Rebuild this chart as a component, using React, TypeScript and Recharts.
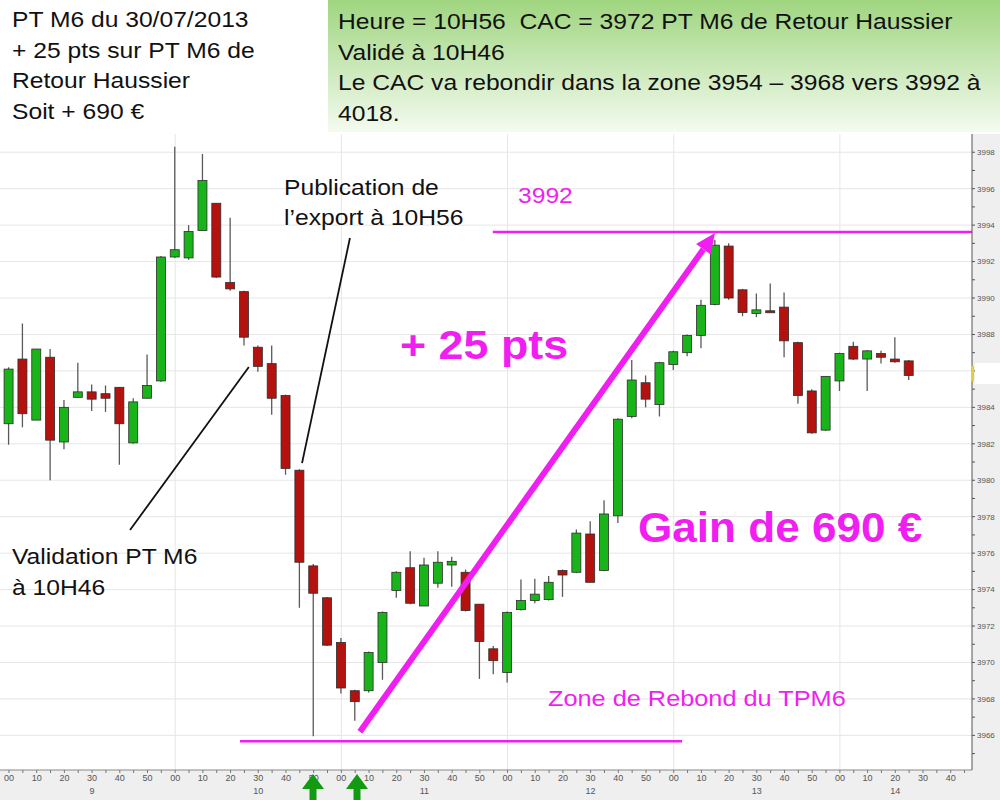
import React from 'react';
import { ComposedChart, Bar, XAxis, YAxis, CartesianGrid, ReferenceLine } from 'recharts';

// 5-minute candles of the CAC 40, 30/07/2013
const times = [
  '09:00', '09:05', '09:10', '09:15', '09:20', '09:25', '09:30', '09:35', '09:40', '09:45', '09:50', '09:55',
  '10:00', '10:05', '10:10', '10:15', '10:20', '10:25', '10:30', '10:35', '10:40', '10:45', '10:50', '10:55',
  '11:00', '11:05', '11:10', '11:15', '11:20', '11:25', '11:30', '11:35', '11:40', '11:45', '11:50', '11:55',
  '12:00', '12:05', '12:10', '12:15', '12:20', '12:25', '12:30', '12:35', '12:40', '12:45', '12:50', '12:55',
  '13:00', '13:05', '13:10', '13:15', '13:20', '13:25', '13:30', '13:35', '13:40', '13:45', '13:50', '13:55',
  '14:00', '14:05', '14:10', '14:15', '14:20', '14:25',
];
const opens = [
  3983.1, 3986.65, 3983.3, 3986.75, 3982.1, 3984.55, 3984.85, 3984.75, 3985.1, 3982.05, 3984.5, 3985.45,
  3992.25, 3992.2, 3993.7, 3995.2, 3990.85, 3990.35, 3987.3, 3986.4, 3984.65, 3980.55, 3975.3, 3973.55,
  3971.1, 3968.45, 3968.45, 3970.0, 3973.95, 3975.2, 3973.1, 3974.35, 3975.35, 3974.95, 3973.2, 3970.75,
  3969.45, 3972.9, 3973.4, 3973.45, 3975.05, 3974.95, 3977.05, 3975.05, 3978.05, 3983.5, 3985.35, 3984.15,
  3986.35, 3987.0, 3987.95, 3989.65, 3992.85, 3990.45, 3989.15, 3989.3, 3989.5, 3987.55, 3984.9, 3982.75,
  3985.45, 3987.35, 3986.65, 3986.95, 3986.65, 3986.55,
];
const highs = [
  3986.2, 3988.6, 3987.2, 3987.2, 3984.4, 3986.45, 3985.25, 3985.2, 3985.1, 3984.5, 3986.9, 3992.3,
  3998.3, 3994.0, 3997.9, 3995.2, 3994.4, 3990.4, 3987.4, 3987.4, 3984.7, 3980.6, 3975.4, 3973.6,
  3971.35, 3968.5, 3970.6, 3972.8, 3975.0, 3976.1, 3975.75, 3976.1, 3975.8, 3975.1, 3973.2, 3970.9,
  3972.8, 3974.55, 3974.6, 3974.75, 3975.1, 3977.3, 3977.75, 3978.9, 3983.4, 3986.6, 3985.75, 3986.5,
  3987.1, 3988.0, 3989.9, 3993.2, 3993.0, 3990.5, 3990.25, 3990.8, 3990.3, 3987.6, 3985.0, 3985.7,
  3987.0, 3987.6, 3987.15, 3987.1, 3987.85, 3986.6,
];
const lows = [
  3981.95, 3982.9, 3983.3, 3980.0, 3981.7, 3984.55, 3983.8, 3983.75, 3980.85, 3982.0, 3984.5, 3985.4,
  3992.2, 3992.1, 3993.7, 3991.1, 3990.4, 3987.4, 3985.95, 3983.6, 3980.3, 3973.0, 3965.95, 3970.9,
  3968.3, 3966.8, 3968.35, 3969.05, 3973.55, 3973.2, 3973.1, 3974.1, 3974.15, 3972.8, 3969.1, 3969.35,
  3968.9, 3972.85, 3973.25, 3973.4, 3973.6, 3974.9, 3974.4, 3975.0, 3977.65, 3983.4, 3984.0, 3983.5,
  3986.05, 3986.8, 3987.25, 3989.6, 3989.9, 3989.0, 3988.95, 3989.2, 3986.75, 3984.2, 3982.55, 3982.7,
  3984.9, 3986.6, 3984.9, 3986.4, 3986.45, 3985.5,
];
const closes = [
  3986.1, 3983.65, 3987.2, 3982.2, 3984.0, 3984.85, 3984.45, 3984.5, 3983.1, 3984.3, 3985.2, 3992.25,
  3992.65, 3993.65, 3996.45, 3991.15, 3990.5, 3987.85, 3986.25, 3984.5, 3980.65, 3975.5, 3973.8, 3970.95,
  3968.6, 3967.85, 3970.55, 3972.75, 3974.95, 3973.25, 3975.35, 3975.5, 3975.55, 3972.85, 3971.15, 3970.1,
  3972.75, 3973.4, 3973.75, 3974.4, 3974.8, 3977.1, 3974.4, 3978.15, 3983.35, 3985.5, 3984.45, 3986.45,
  3987.05, 3987.95, 3989.6, 3992.9, 3990.0, 3989.2, 3989.35, 3989.25, 3987.65, 3984.65, 3982.6, 3985.7,
  3986.95, 3986.65, 3987.1, 3986.75, 3986.5, 3985.75,
];

const minuteTicks = Array.from({ length: 70 }, (_, i) => i * 5); // 09:00 .. 14:45
const priceTicks = Array.from({ length: 34 }, (_, i) => 3965 + i);
const gridPrices = priceTicks.filter((v) => v % 2 === 0);
const hourLines = [60, 120, 180, 240, 300];
// hour captions sit under these ticks (minutes from 09:00)
const hourLabelTicks = [30, 90, 150, 210, 270, 320];
const hourLabels = ['9', '10', '11', '12', '13', '14'];

const toMin = (s: string) => {
  const [h, m] = s.split(':').map(Number);
  return (h - 9) * 60 + m;
};

const data = times.map((t, i) => ({
  t: toMin(t),
  open: opens[i],
  high: highs[i],
  low: lows[i],
  close: closes[i],
}));

const MAGENTA = '#f01ef0';
const FONT = 'Arial, "Liberation Sans", sans-serif';

const Candle = (props: any) => {
  const { x, y, width, height, payload } = props;
  if (!payload) return null;
  const { open, high, low, close } = payload;
  const ppu = height / (high - low);
  const cx = x + width / 2;
  const yOf = (v: number) => y + (high - v) * ppu;
  const up = close >= open;
  const top = yOf(Math.max(open, close));
  const bh = Math.max(2, yOf(Math.min(open, close)) - top);
  return (
    <g>
      <line x1={cx} x2={cx} y1={y} y2={y + height} stroke="#5a5a5a" strokeWidth={1.3} />
      <rect x={cx - 4.5} y={top} width={9} height={bh} fill={up ? '#19b419' : '#b3120f'} stroke="#2e2e2e" strokeWidth={0.8} />
    </g>
  );
};

const Arrow = (p: any) => {
  const { x1, y1, x2, y2 } = p;
  const a = Math.atan2(y2 - y1, x2 - x1);
  const L = 20;
  const W = 9;
  const bx = x2 - L * Math.cos(a);
  const by = y2 - L * Math.sin(a);
  const nx = -Math.sin(a) * W;
  const ny = Math.cos(a) * W;
  return (
    <g>
      <line x1={x1} y1={y1} x2={bx} y2={by} stroke={MAGENTA} strokeWidth={6} />
      <polygon points={`${x2},${y2} ${bx + nx},${by + ny} ${bx - nx},${by - ny}`} fill={MAGENTA} />
    </g>
  );
};

const MinuteTick = (props: any) => {
  const { x, y, payload } = props;
  const m = payload.value % 60;
  const hi = hourLabelTicks.indexOf(payload.value);
  return (
    <g>
      {m % 10 === 0 && (
        <text x={x} y={y + 6} textAnchor="middle" fontSize={9} fill="#555" fontFamily={FONT}>
          {String(m).padStart(2, '0')}
        </text>
      )}
      {hi >= 0 && (
        <text x={x} y={y + 19} textAnchor="middle" fontSize={9} fill="#555" fontFamily={FONT}>
          {hourLabels[hi]}
        </text>
      )}
    </g>
  );
};

const txt: React.CSSProperties = {
  position: 'absolute',
  fontFamily: FONT,
  fontSize: 22,
  lineHeight: '30.5px',
  color: '#111',
  whiteSpace: 'nowrap',
  transform: 'scaleX(1.12)',
  transformOrigin: 'left top',
};

const UpArrow = ({ x }: { x: number }) => (
  <g>
    <polygon points={`${x},774 ${x - 11},789 ${x + 11},789`} fill="#129a12" />
    <rect x={x - 3.5} y={788} width={7} height={12} fill="#129a12" />
  </g>
);

export default function App() {
  return (
    <div style={{ position: 'absolute', left: 0, top: 0, width: 1000, height: 800, background: '#fff', overflow: 'hidden' }}>
      <div style={{ position: 'absolute', left: 972, top: 134, width: 28, height: 666, background: '#efefef' }} />
      <div style={{ position: 'absolute', left: 0, top: 770, width: 1000, height: 30, background: '#efefef' }} />
      <div style={{ position: 'absolute', left: 328, top: 0, width: 672, height: 132, background: 'linear-gradient(to bottom, #9fd57f, #f4fbf0)' }} />

      <div style={{ position: 'absolute', left: 0, top: 0 }}>
        <ComposedChart width={1000} height={800} data={data} margin={{ top: 134, right: 0, bottom: 0, left: 0 }}>
          <CartesianGrid fill="#fff" stroke="#e6e6e6" horizontalValues={gridPrices} verticalValues={hourLines} />
          <XAxis
            dataKey="t"
            type="number"
            domain={[-3.25, 347.7]}
            ticks={minuteTicks}
            interval={0}
            tick={<MinuteTick />}
            tickSize={3}
            tickLine={{ stroke: '#777' }}
            axisLine={{ stroke: '#888' }}
            height={30}
            allowDataOverflow
          />
          <YAxis
            orientation="right"
            type="number"
            domain={[3964.1, 3999.0]}
            ticks={priceTicks}
            interval={0}
            width={28}
            tickSize={3}
            tickFormatter={(v: number) => (v % 2 === 0 && v !== 3986 ? String(v) : '')}
            tick={{ fontSize: 8, fill: '#555', fontFamily: FONT }}
            tickLine={{ stroke: '#555' }}
            axisLine={{ stroke: '#555' }}
            allowDataOverflow
          />
          <Bar dataKey={(d: any) => [d.low, d.high]} barSize={9} shape={Candle} isAnimationActive={false} />

          <ReferenceLine segment={[{ x: 174.7, y: 3993.62 }, { x: 347.7, y: 3993.62 }]} stroke={MAGENTA} strokeWidth={2.5} />
          <ReferenceLine segment={[{ x: 83.4, y: 3965.68 }, { x: 243, y: 3965.68 }]} stroke={MAGENTA} strokeWidth={2.5} />
          <ReferenceLine segment={[{ x: 126.7, y: 3966.2 }, { x: 254.9, y: 3993.57 }]} shape={Arrow} />
          <ReferenceLine segment={[{ x: 43.7, y: 3977.27 }, { x: 86.6, y: 3986.21 }]} stroke="#111" strokeWidth={1.8} />
          <ReferenceLine segment={[{ x: 123.1, y: 3993.29 }, { x: 105.8, y: 3980.94 }]} stroke="#111" strokeWidth={1.8} />
        </ComposedChart>
      </div>

      <svg width={1000} height={800} style={{ position: 'absolute', left: 0, top: 0, pointerEvents: 'none' }}>
        <UpArrow x={313} />
        <UpArrow x={357} />
        <rect x={975} y={363} width={25} height={21} fill="#fff" />
        <rect x={971} y={366} width={3} height={15} fill="#e2cf3a" />
      </svg>

      <div style={{ ...txt, left: 12, top: 5 }}>
        PT M6 du 30/07/2013<br />+ 25 pts sur PT M6 de<br />Retour Haussier<br />Soit + 690 €
      </div>
      <div style={{ ...txt, left: 338, top: 7 }}>
        Heure = 10H56&nbsp;&nbsp;CAC = 3972 PT M6 de Retour Haussier<br />Validé à 10H46<br />Le CAC va rebondir dans la zone 3954 – 3968 vers 3992 à<br />4018.
      </div>
      <div style={{ ...txt, left: 284, top: 173, lineHeight: '30px' }}>
        Publication de<br />l’export à 10H56
      </div>
      <div style={{ ...txt, left: 12, top: 541, lineHeight: '31px' }}>
        Validation PT M6<br />à 10H46
      </div>
      <div style={{ ...txt, left: 518, top: 181, color: MAGENTA }}>3992</div>
      <div style={{ ...txt, left: 548, top: 684, color: MAGENTA, transform: 'scaleX(1.15)' }}>Zone de Rebond du TPM6</div>
      <div style={{ ...txt, left: 400, top: 322, color: MAGENTA, fontSize: 40, fontWeight: 'bold', lineHeight: '46px' }}>+ 25 pts</div>
      <div style={{ ...txt, left: 638, top: 503, color: MAGENTA, fontSize: 42, fontWeight: 'bold', lineHeight: '50px', transform: 'scaleX(1.05)' }}>
        Gain de 690 €
      </div>
    </div>
  );
}
